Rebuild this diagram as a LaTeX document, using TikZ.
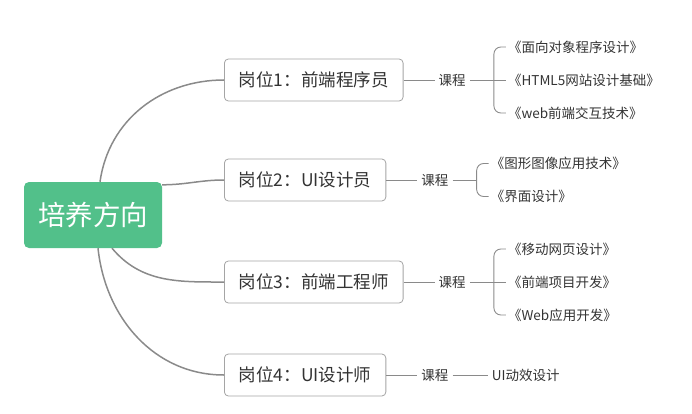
\documentclass[tikz,border=0pt]{standalone}
\usepackage{fontspec}
\setmainfont{Noto Sans CJK SC}
\usepackage{xcolor}
\usetikzlibrary{positioning}

\definecolor{rootgreen}{RGB}{82,192,138}
\definecolor{linegray}{RGB}{138,138,138}
\definecolor{boxgray}{RGB}{165,165,165}
\definecolor{textgray}{RGB}{51,51,51}

\begin{document}
\begin{tikzpicture}[x=1pt, y=-1pt,
  root/.style={fill=rootgreen, rounded corners=5pt, text=white,
    font=\fontsize{27.5pt}{32pt}\selectfont,
    minimum width=138pt, minimum height=66pt, inner sep=0pt},
  post/.style={draw=boxgray, line width=0.8pt, rounded corners=4pt,
    fill=white, text=textgray, font=\fontsize{17.5pt}{21pt}\selectfont,
    inner xsep=14.5pt, minimum height=42pt, anchor=west},
  kc/.style={text=textgray, font=\fontsize{13.5pt}{16pt}\selectfont,
    inner sep=4pt},
  course/.style={text=textgray, font=\fontsize{13.5pt}{16pt}\selectfont,
    inner xsep=2pt, anchor=west},
  branch/.style={draw=linegray, line width=1.5pt},
  link/.style={draw=linegray, line width=0.9pt}]

  \useasboundingbox (0,0) rectangle (692,414);

  % Central topic
  \node[root] (root) at (93,215) {培养方向};

  % The four positions
  \node[post] (p1) at (224,80) {岗位1：前端程序员};
  \node[post] (p2) at (224,180) {岗位2：UI设计员};
  \node[post] (p3) at (224,282) {岗位3：前端工程师};
  \node[post] (p4) at (224,375) {岗位4：UI设计师};

  % Curved branches from the centre
  \draw[branch] ([xshift=7pt]root.north) to[out=82, in=180] (p1.west);
  \draw[branch] ([yshift=-3pt]root.north east) to[out=0, in=180] (p2.west);
  \draw[branch] ([xshift=19pt]root.south) to[out=-50, in=180] (p3.west);
  \draw[branch] ([xshift=5pt]root.south) to[out=-84, in=180] (p4.west);

  % "Course" labels
  \node[kc, right=31pt of p1] (k1) {课程};
  \node[kc, right=31pt of p2] (k2) {课程};
  \node[kc, right=31pt of p3] (k3) {课程};
  \node[kc, right=31pt of p4] (k4) {课程};
  \foreach \i in {1,...,4}
    \draw[link] (p\i) -- (k\i);

  % Courses of position 1
  \node[course, right=36pt of k1] (c12) {《HTML5网站设计基础》};
  \node[course] (c11) at ([yshift=33pt]c12.west) {《面向对象程序设计》};
  \node[course] (c13) at ([yshift=-33pt]c12.west) {《web前端交互技术》};
  \draw[link] (k1) -- (c12);
  \draw[link, rounded corners=7pt] (c11.west) -- ++(-12,0) |- (c13.west);

  % Courses of position 2
  \coordinate[right=24pt of k2] (b2);
  \node[course] (c21) at ([xshift=12pt, yshift=16.5pt]b2) {《图形图像应用技术》};
  \node[course] (c22) at ([xshift=12pt, yshift=-16.5pt]b2) {《界面设计》};
  \draw[link] (k2) -- (b2);
  \draw[link, rounded corners=7pt] (c21.west) -- ++(-12,0) |- (c22.west);

  % Courses of position 3
  \node[course, right=36pt of k3] (c32) {《前端项目开发》};
  \node[course] (c31) at ([yshift=33pt]c32.west) {《移动网页设计》};
  \node[course] (c33) at ([yshift=-33pt]c32.west) {《Web应用开发》};
  \draw[link] (k3) -- (c32);
  \draw[link, rounded corners=7pt] (c31.west) -- ++(-12,0) |- (c33.west);

  % Course of position 4
  \node[kc, right=35pt of k4] (c41) {UI动效设计};
  \draw[link] (k4) -- (c41);
\end{tikzpicture}
\end{document}
